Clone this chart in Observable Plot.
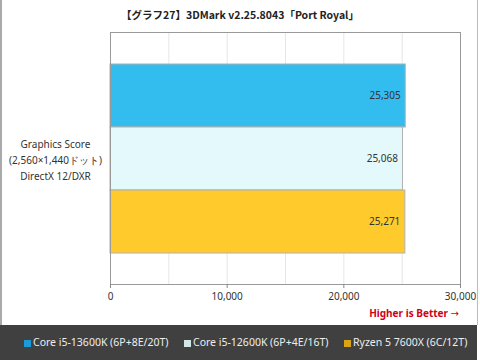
<!DOCTYPE html>
<html>
<head>
<meta charset="utf-8">
<script src="https://cdn.jsdelivr.net/npm/d3@7"></script>
<script src="https://cdn.jsdelivr.net/npm/@observablehq/plot@0.6"></script>
<style>
  html, body { margin: 0; padding: 0; background: #fff; }
  #wrap { position: relative; width: 480px; height: 360px; overflow: hidden; font-family: "Noto Sans", sans-serif; }
  #border { position: absolute; left: 0; top: 0; width: 475px; height: 325px; border-left: 2px solid #aaa; border-right: 1px solid #bbb; box-sizing: content-box; }
  #title { position: absolute; left: 0; top: 7px; width: 480px; text-align: center; font-family: "Noto Sans CJK JP", sans-serif; font-weight: bold; font-size: 10.5px; color: #222; }
  #chart { position: absolute; left: 0; top: 0; }
  #better { position: absolute; right: 21px; top: 306px; font-size: 10px; font-weight: bold; color: #d0021b; font-family: "Noto Sans", sans-serif; }
  #better .arr { font-family: "DejaVu Sans", sans-serif; font-weight: normal; }
  #legend { position: absolute; left: 0; top: 325px; width: 477px; height: 35px; background: #404040; }
  .item { position: absolute; top: 10px; font-size: 10.5px; color: #eee; white-space: nowrap; font-family: "Noto Sans", sans-serif; }
  .sw { display: inline-block; width: 7px; height: 7px; margin-right: 2px; vertical-align: -1px; }
</style>
</head>
<body>
<div id="wrap">
  <div id="border"></div>
  <div id="chart"></div>
  <div id="title"></div>
  <div id="better">Higher is Better <span class="arr">→</span></div>
  <div id="legend"></div>
</div>
<script>
const title = "【グラフ27】3DMark v2.25.8043「Port Royal」";
const category = "Graphics Score\n(2,560×1,440ドット)\nDirectX 12/DXR";
const series = ["Core i5-13600K (6P+8E/20T)", "Core i5-12600K (6P+4E/16T)", "Ryzen 5 7600X (6C/12T)"];
const values = [25305, 25068, 25271];
const barColors = ["#33bdef", "#e3f9fb", "#ffca2c"];
const legendColors = ["#1a9ad6", "#d3e6e6", "#d9a514"];
const xTicks = [0, 10000, 20000, 30000];
const gridTicks = [5000, 10000, 15000, 20000, 25000];

const data = series.map((s, i) => ({series: s, value: values[i]}));

document.getElementById("title").textContent = title;

const chart = Plot.plot({
  width: 480,
  height: 325,
  marginLeft: 110,
  marginRight: 20,
  marginTop: 32,
  marginBottom: 41,
  style: {fontFamily: "Noto Sans, sans-serif", fontSize: "10px", color: "#333", background: "transparent"},
  x: {domain: [0, 30000], label: null},
  y: {domain: series, paddingInner: 0, paddingOuter: 0.5, label: null},
  color: {domain: series, range: barColors},
  marks: [
    Plot.gridX(gridTicks, {stroke: "#e6e6e6", strokeOpacity: 1}),
    Plot.barX(data, {x: "value", y: "series", fill: "series", stroke: "#b0b0b0", strokeWidth: 1}),
    Plot.text(data, {x: "value", y: "series", text: d => d3.format(",")(d.value), textAnchor: "end", dx: -5, fill: "#333", fontSize: 10}),
    Plot.frame({stroke: "#999"}),
    Plot.axisX(xTicks, {tickFormat: d3.format(","), tickSize: 4, tickPadding: 4, stroke: "#888", fill: "#333", fontSize: 10, label: null}),
    Plot.axisY([series[1]], {tickFormat: () => category, tickSize: 0, tickPadding: 55, textAnchor: "middle", lineHeight: 1.6, fontSize: 10, fill: "#333", label: null})
  ]
});
document.getElementById("chart").appendChild(chart);

const legend = document.getElementById("legend");
const lefts = [24, 184, 344];
series.forEach((s, i) => {
  const el = document.createElement("div");
  el.className = "item";
  el.style.left = lefts[i] + "px";
  el.innerHTML = `<span class="sw" style="background:${legendColors[i]}"></span>`;
  el.appendChild(document.createTextNode(s));
  legend.appendChild(el);
});
</script>
</body>
</html>
